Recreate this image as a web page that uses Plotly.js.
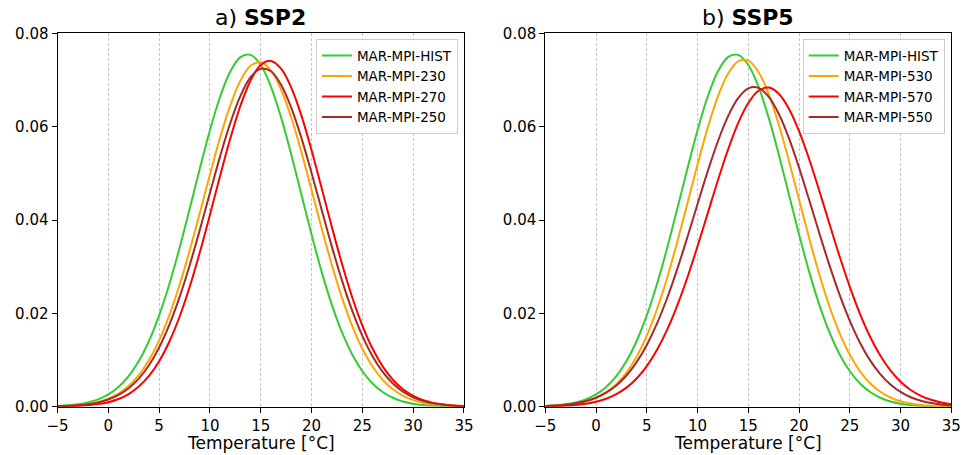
<!DOCTYPE html>
<html><head><meta charset="utf-8">
<script src="https://cdn.plot.ly/plotly-3.0.1.min.js"></script>
<style>html,body{margin:0;padding:0;background:#fff}#chart{width:962px;height:455px}</style>
</head><body><div id="chart"></div>
<script>
// Temperature grid (°C)
const temperature = [-5,-4,-3,-2,-1,0,1,2,3,4,5,6,7,8,9,10,11,12,13,14,15,16,17,18,19,20,21,22,23,24,25,26,27,28,29,30,31,32,33,34,35];

// Panel a) SSP2 — probability density values
const histPdf = [0.00015,0.00028,0.00051,0.00092,0.00158,0.00264,0.00423,0.00654,0.00977,0.01408,0.01956,0.02624,0.03394,0.04237,0.05102,0.05927,0.06643,0.07183,0.07494,0.07542,0.07324,0.06861,0.06201,0.05407,0.04548,0.03691,0.02890,0.02183,0.01591,0.01119,0.00759,0.00497,0.00314,0.00191,0.00112,0.00064,0.00035,0.00018,0.00009,0.00005,0.00002];
const ssp230Pdf = [0.00009,0.00017,0.00032,0.00058,0.00102,0.00173,0.00282,0.00445,0.00679,0.01000,0.01423,0.01958,0.02603,0.03343,0.04150,0.04977,0.05768,0.06459,0.06989,0.07307,0.07383,0.07208,0.06799,0.06198,0.05460,0.04647,0.03822,0.03037,0.02332,0.01731,0.01241,0.00860,0.00576,0.00372,0.00233,0.00141,0.00082,0.00046,0.00025,0.00013,0.00007];
const ssp270Pdf = [0.00004,0.00008,0.00016,0.00030,0.00055,0.00097,0.00165,0.00271,0.00430,0.00658,0.00974,0.01392,0.01922,0.02564,0.03305,0.04114,0.04948,0.05748,0.06451,0.06994,0.07326,0.07412,0.07245,0.06841,0.06240,0.05499,0.04681,0.03850,0.03059,0.02347,0.01740,0.01246,0.00863,0.00577,0.00372,0.00232,0.00140,0.00082,0.00046,0.00025,0.00013];
const ssp250Pdf = [0.00008,0.00016,0.00029,0.00052,0.00091,0.00154,0.00251,0.00395,0.00602,0.00889,0.01269,0.01753,0.02342,0.03028,0.03787,0.04583,0.05366,0.06078,0.06661,0.07063,0.07245,0.07190,0.06903,0.06413,0.05763,0.05011,0.04216,0.03431,0.02702,0.02058,0.01517,0.01082,0.00746,0.00498,0.00322,0.00201,0.00121,0.00071,0.00040,0.00022,0.00012];

// Panel b) SSP5
const ssp530Pdf = [0.00010,0.00019,0.00035,0.00063,0.00111,0.00187,0.00305,0.00480,0.00730,0.01073,0.01522,0.02086,0.02760,0.03528,0.04354,0.05191,0.05977,0.06647,0.07138,0.07404,0.07417,0.07176,0.06705,0.06050,0.05273,0.04439,0.03608,0.02833,0.02148,0.01573,0.01113,0.00760,0.00501,0.00319,0.00197,0.00117,0.00067,0.00037,0.00020,0.00010,0.00005];
const ssp570Pdf = [0.00006,0.00012,0.00021,0.00037,0.00063,0.00106,0.00171,0.00268,0.00409,0.00605,0.00870,0.01215,0.01647,0.02168,0.02770,0.03438,0.04143,0.04848,0.05508,0.06077,0.06510,0.06772,0.06840,0.06709,0.06389,0.05908,0.05305,0.04625,0.03916,0.03219,0.02569,0.01992,0.01499,0.01095,0.00777,0.00536,0.00358,0.00233,0.00147,0.00090,0.00054];
const ssp550Pdf = [0.00013,0.00024,0.00042,0.00072,0.00120,0.00192,0.00300,0.00454,0.00668,0.00954,0.01322,0.01779,0.02324,0.02949,0.03632,0.04343,0.05043,0.05685,0.06223,0.06613,0.06823,0.06835,0.06648,0.06278,0.05756,0.05124,0.04429,0.03716,0.03028,0.02395,0.01840,0.01372,0.00993,0.00698,0.00476,0.00316,0.00203,0.00127,0.00077,0.00045,0.00026];

const seriesNamesA = ['MAR-MPI-HIST','MAR-MPI-230','MAR-MPI-270','MAR-MPI-250'];
const seriesNamesB = ['MAR-MPI-HIST','MAR-MPI-530','MAR-MPI-570','MAR-MPI-550'];
const xTickVals = [-5,0,5,10,15,20,25,30,35];
const xTickText = ['\u22125','0','5','10','15','20','25','30','35'];
const yTickVals = [0,0.02,0.04,0.06,0.08];
const yTickText = ['0.00','0.02','0.04','0.06','0.08'];
const panelTitles = ['a) <b>SSP2</b>','b) <b>SSP5</b>'];
const xLabel = 'Temperature [°C]';

const colors = ['#32cd32','#ffa500','#ff0000','#a52a2a'];
const FONT = 'DejaVu Sans, sans-serif';

const dataA = [histPdf, ssp230Pdf, ssp270Pdf, ssp250Pdf];
const dataB = [histPdf, ssp530Pdf, ssp570Pdf, ssp550Pdf];

const traces = [];
dataA.forEach((ys,i)=>traces.push({x:temperature,y:ys,type:'scatter',mode:'lines',name:seriesNamesA[i],
  line:{color:colors[i],width:2,shape:'spline',smoothing:1},xaxis:'x',yaxis:'y',legend:'legend'}));
dataB.forEach((ys,i)=>traces.push({x:temperature,y:ys,type:'scatter',mode:'lines',name:seriesNamesB[i],
  line:{color:colors[i],width:2,shape:'spline',smoothing:1},xaxis:'x2',yaxis:'y2',legend:'legend2'}));

function xAxis(domain, anchor){
  return {domain:domain, anchor:anchor, range:[-5,35], tickmode:'array', tickvals:xTickVals, ticktext:xTickText,
    ticks:'outside', ticklen:5, tickwidth:1, tickcolor:'#000', showline:true, linecolor:'#000', linewidth:1, mirror:true,
    showgrid:true, gridcolor:'#b8b8b8', griddash:'3px,2px', gridwidth:0.8, zeroline:false,
    tickfont:{family:FONT,size:15,color:'#000'}, fixedrange:true};
}
function yAxis(anchor){
  return {domain:[0.1062,0.9264], anchor:anchor, range:[0,0.08], tickmode:'array', tickvals:yTickVals, ticktext:yTickText,
    ticks:'outside', ticklen:5, tickwidth:1, tickcolor:'#000', showline:true, linecolor:'#000', linewidth:1, mirror:true,
    showgrid:false, zeroline:true, zerolinecolor:'#808080', zerolinewidth:2, tickfont:{family:FONT,size:15,color:'#000'}, fixedrange:true};
}
const legendCommon = {xanchor:'right', yanchor:'top', y:0.914, bgcolor:'rgba(255,255,255,0.85)', bordercolor:'#cccccc', borderwidth:1,
  font:{family:FONT,size:13.5,color:'#000'}, tracegroupgap:0};

const layout = {
  width:962, height:455, autosize:false,
  margin:{l:0,r:0,t:0,b:0},
  paper_bgcolor:'#fff', plot_bgcolor:'#fff',
  font:{family:FONT,color:'#000'},
  xaxis:xAxis([0.0598,0.4823],'y'),
  yaxis:yAxis('x'),
  xaxis2:xAxis([0.5668,0.9889],'y2'),
  yaxis2:yAxis('x2'),
  legend:Object.assign({x:0.476}, legendCommon),
  legend2:Object.assign({x:0.982}, legendCommon),
  annotations:[
    {text:panelTitles[0], x:(0.0598+0.4823)/2, y:0.961, xref:'paper', yref:'paper', xanchor:'center', yanchor:'middle', showarrow:false, font:{family:FONT,size:22,color:'#000'}},
    {text:panelTitles[1], x:(0.5668+0.9889)/2, y:0.961, xref:'paper', yref:'paper', xanchor:'center', yanchor:'middle', showarrow:false, font:{family:FONT,size:22,color:'#000'}},
    {text:xLabel, x:(0.0598+0.4823)/2, y:0.026, xref:'paper', yref:'paper', xanchor:'center', yanchor:'middle', showarrow:false, font:{family:FONT,size:17,color:'#000'}},
    {text:xLabel, x:(0.5668+0.9889)/2, y:0.026, xref:'paper', yref:'paper', xanchor:'center', yanchor:'middle', showarrow:false, font:{family:FONT,size:17,color:'#000'}}
  ],
  showlegend:true
};
Plotly.newPlot('chart', traces, layout, {displayModeBar:false, staticPlot:true});
</script></body></html>
